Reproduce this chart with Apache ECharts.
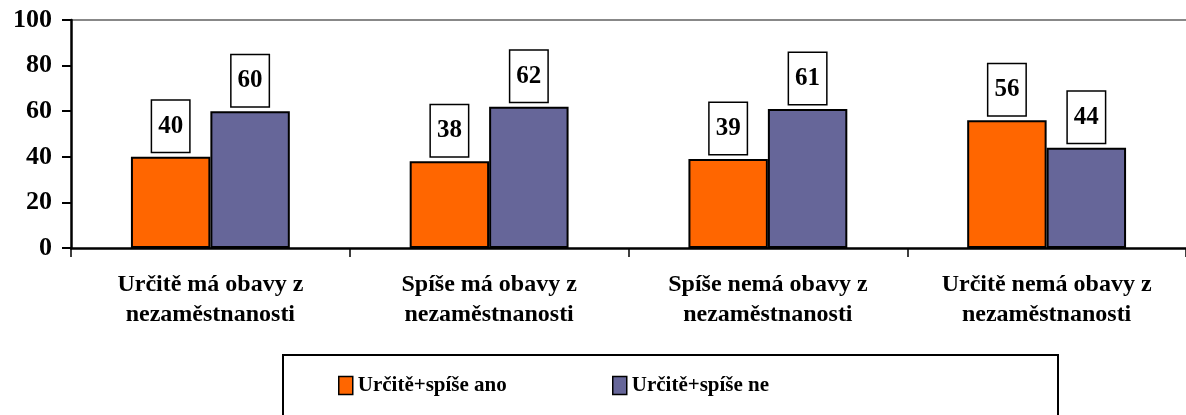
<!DOCTYPE html>
<html>
<head>
<meta charset="utf-8">
<script src="https://cdn.jsdelivr.net/npm/echarts@6/dist/echarts.min.js"></script>
<style>html,body{margin:0;padding:0;background:#fff}#c{width:1186px;height:415px}</style>
</head>
<body>
<div id="c"></div>
<script>
const categories = ["Určitě má obavy z\nnezaměstnanosti", "Spíše má obavy z\nnezaměstnanosti", "Spíše nemá obavy z\nnezaměstnanosti", "Určitě nemá obavy z\nnezaměstnanosti"];
const seriesNames = ["Určitě+spíše ano", "Určitě+spíše ne"];
const valuesAno = [40, 38, 39, 56];
const valuesNe = [60, 62, 61, 44];
const yTicks = [0, 20, 40, 60, 80, 100];

const FONT = '"Liberation Serif", "Times New Roman", serif';
const chart = echarts.init(document.getElementById('c'), null, {renderer: 'canvas'});
const labelStyle = {
  show: true, position: 'top', distance: 5,
  fontFamily: FONT, fontWeight: 'bold', fontSize: 25, color: '#000',
  backgroundColor: '#fff', borderColor: '#000', borderWidth: 1.5,
  padding: [13, 6, 13, 6]
};
const legendCommon = {
  top: 375, padding: 0, itemWidth: 14, itemHeight: 18, icon: 'rect',
  itemStyle: {borderColor: '#000', borderWidth: 1.5},
  textStyle: {fontFamily: FONT, fontWeight: 'bold', fontSize: 21, color: '#000'}
};
chart.setOption({
  animation: false,
  grid: {left: 71, top: 20, width: 1122, height: 228, containLabel: false},
  xAxis: {
    type: 'category', data: categories,
    axisLine: {lineStyle: {color: '#000', width: 2.5}},
    axisTick: {show: true, length: 9, lineStyle: {color: '#000', width: 1.5}},
    axisLabel: {fontFamily: FONT, fontWeight: 'bold', fontSize: 24, color: '#000', margin: 22, lineHeight: 30, interval: 0}
  },
  yAxis: {
    type: 'value', min: yTicks[0], max: yTicks[yTicks.length - 1], interval: 20,
    axisLine: {show: true, lineStyle: {color: '#000', width: 2.5}},
    axisTick: {show: true, length: 9, lineStyle: {color: '#000', width: 2}},
    axisLabel: {fontFamily: FONT, fontWeight: 'bold', fontSize: 26, color: '#000', margin: 19},
    splitLine: {show: true, lineStyle: {color: ['rgba(0,0,0,0)', 'rgba(0,0,0,0)', 'rgba(0,0,0,0)', 'rgba(0,0,0,0)', 'rgba(0,0,0,0)', '#888'], width: 2}}
  },
  legend: [
    Object.assign({data: [seriesNames[0]], left: 338}, legendCommon),
    Object.assign({data: [seriesNames[1]], left: 612}, legendCommon)
  ],
  graphic: [{
    type: 'rect', shape: {x: 283, y: 355, width: 775, height: 90},
    style: {fill: 'none', stroke: '#000', lineWidth: 2}, silent: true
  }],
  series: [
    {name: seriesNames[0], type: 'bar', data: valuesAno, barGap: '0%', barCategoryGap: '43%',
     itemStyle: {color: '#FF6600', borderColor: '#000', borderWidth: 2}, label: labelStyle},
    {name: seriesNames[1], type: 'bar', data: valuesNe,
     itemStyle: {color: '#666699', borderColor: '#000', borderWidth: 2}, label: labelStyle}
  ]
});
</script>
</body>
</html>
